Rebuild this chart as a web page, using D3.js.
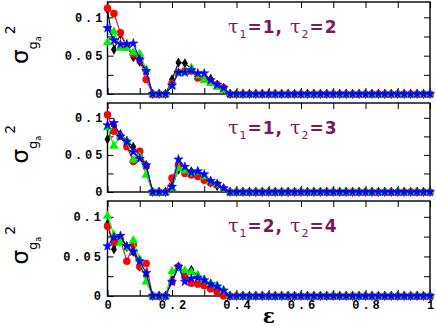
<!DOCTYPE html>
<meta charset="utf-8">
<title>sigma g_a vs epsilon</title>
<style>
body { margin: 0; background: #fff; }
svg { display: block; }
.tick text { font-family: "Liberation Mono", monospace; font-weight: bold; font-size: 12px; letter-spacing: 3px; fill: #000; }
.frame { fill: none; stroke: #000; stroke-width: 1.4; }
</style>
<svg width="436" height="327"></svg>
<script src="https://d3js.org/d3.v7.min.js"></script>
<script>
// coupling strength (x axis)
var eps = [0, 0.02, 0.04, 0.06, 0.08, 0.1, 0.12, 0.14, 0.16, 0.18, 0.2, 0.22, 0.24, 0.26, 0.28, 0.3, 0.32, 0.34, 0.36,
  0.38, 0.4, 0.42, 0.44, 0.46, 0.48, 0.5, 0.52, 0.54, 0.56, 0.58, 0.6, 0.62, 0.64, 0.66, 0.68, 0.7, 0.72, 0.74, 0.76, 0.78,
  0.8, 0.82, 0.84, 0.86, 0.88, 0.9, 0.92, 0.94, 0.96, 0.98, 1]

var xTicks = [0, 0.1, 0.2, 0.3, 0.4, 0.5, 0.6, 0.7, 0.8, 0.9, 1]
var xTickLabels = {0: "0", 0.2: "0.2", 0.4: "0.4", 0.6: "0.6", 0.8: "0.8", 1: "1"}
var yTicks = [0, 0.025, 0.05, 0.075, 0.1]
var yTickLabels = {0: "0", 0.05: "0.05", 0.1: "0.1"}

var panelTitles = [["1", "1", "2", "2"], ["1", "1", "2", "3"], ["1", "2", "2", "4"]]

// tau1=1, tau2=2
var p1Black = [0.110, 0.058, 0.078, 0.062, 0.048, 0.042, 0.030, 0, 0, 0, 0.019, 0.041, 0.040, 0.033, 0.024, 0.022, 0.020, 0.012, 0.007,
  0, 0, 0, 0, 0, 0, 0, 0, 0, 0, 0, 0, 0, 0, 0, 0, 0, 0, 0, 0, 0, 0, 0, 0, 0, 0, 0, 0, 0, 0, 0, 0]
var p1Red = [0.112, 0.105, 0.080, 0.062, 0.052, 0.045, 0.019, 0, 0, 0, 0.014, 0.028, 0.030, 0.030, 0.021, 0.020, 0.015, 0.012, 0.008,
  0, 0, 0, 0, 0, 0, 0, 0, 0, 0, 0, 0, 0, 0, 0, 0, 0, 0, 0, 0, 0, 0, 0, 0, 0, 0, 0, 0, 0, 0, 0, 0]
var p1Green = [0.067, 0.081, 0.060, 0.060, 0.054, 0.052, 0.032, 0, 0, 0, 0.010, 0.027, 0.028, 0.034, 0.024, 0.018, 0.014, 0.009, 0.005,
  0, 0, 0, 0, 0, 0, 0, 0, 0, 0, 0, 0, 0, 0, 0, 0, 0, 0, 0, 0, 0, 0, 0, 0, 0, 0, 0, 0, 0, 0, 0, 0]
var p1Blue = [0.086, 0.070, 0.065, 0.065, 0.066, 0.045, 0.030, 0, 0, 0, 0.011, 0.028, 0.028, 0.031, 0.027, 0.027, 0.018, 0.012, 0.008,
  0, 0, 0, 0, 0, 0, 0, 0, 0, 0, 0, 0, 0, 0, 0, 0, 0, 0, 0, 0, 0, 0, 0, 0, 0, 0, 0, 0, 0, 0, 0, 0]

// tau1=1, tau2=3
var p2Black = [0.071, 0.090, 0.078, 0.069, 0.061, 0.050, 0.036, 0, 0, 0, 0.008, 0.030, 0.030, 0.028, 0.024, 0.020, 0.013, 0.008, 0.005,
  0, 0, 0, 0, 0, 0, 0, 0, 0, 0, 0, 0, 0, 0, 0, 0, 0, 0, 0, 0, 0, 0, 0, 0, 0, 0, 0, 0, 0, 0, 0, 0]
var p2Red = [0.104, 0.082, 0.075, 0.061, 0.041, 0.055, 0.035, 0, 0, 0, 0.019, 0.036, 0.025, 0.023, 0.021, 0.016, 0.012, 0.010, 0.004,
  0, 0, 0, 0, 0, 0, 0, 0, 0, 0, 0, 0, 0, 0, 0, 0, 0, 0, 0, 0, 0, 0, 0, 0, 0, 0, 0, 0, 0, 0, 0, 0]
var p2Green = [0.087, 0.062, 0.075, 0.069, 0.043, 0.048, 0.023, 0, 0, 0, 0.005, 0.032, 0.029, 0.025, 0.027, 0.021, 0.014, 0.010, 0.004,
  0, 0, 0, 0, 0, 0, 0, 0, 0, 0, 0, 0, 0, 0, 0, 0, 0, 0, 0, 0, 0, 0, 0, 0, 0, 0, 0, 0, 0, 0, 0, 0]
var p2Blue = [0.090, 0.093, 0.075, 0.068, 0.054, 0.045, 0.036, 0, 0, 0, 0.007, 0.044, 0.034, 0.026, 0.028, 0.024, 0.015, 0.011, 0.005,
  0, 0, 0, 0, 0, 0, 0, 0, 0, 0, 0, 0, 0, 0, 0, 0, 0, 0, 0, 0, 0, 0, 0, 0, 0, 0, 0, 0, 0, 0, 0, 0]

// tau1=2, tau2=4
var p3Black = [0.091, 0.059, 0.074, 0.062, 0.056, 0.037, 0.026, 0, 0, 0, 0.020, 0.037, 0.030, 0.033, 0.026, 0.020, 0.015, 0.010, 0.005,
  0, 0, 0, 0, 0, 0, 0, 0, 0, 0, 0, 0, 0, 0, 0, 0, 0, 0, 0, 0, 0, 0, 0, 0, 0, 0, 0, 0, 0, 0, 0, 0]
var p3Red = [0.088, 0.069, 0.071, 0.044, 0.065, 0.037, 0.041, 0, 0, 0, 0.018, 0.037, 0.024, 0.016, 0.015, 0.013, 0.009, 0.005, 0,
  0, 0, 0, 0, 0, 0, 0, 0, 0, 0, 0, 0, 0, 0, 0, 0, 0, 0, 0, 0, 0, 0, 0, 0, 0, 0, 0, 0, 0, 0, 0, 0]
var p3Green = [0.101, 0.077, 0.067, 0.061, 0.070, 0.046, 0.018, 0, 0, 0, 0.031, 0.035, 0.032, 0.030, 0.026, 0.020, 0.016, 0.013, 0.007,
  0, 0, 0, 0, 0, 0, 0, 0, 0, 0, 0, 0, 0, 0, 0, 0, 0, 0, 0, 0, 0, 0, 0, 0, 0, 0, 0, 0, 0, 0, 0, 0]
var p3Blue = [0.063, 0.074, 0.076, 0.063, 0.056, 0.044, 0.029, 0, 0, 0, 0.018, 0.037, 0.018, 0.022, 0.023, 0.020, 0.015, 0.012, 0.007,
  0, 0, 0, 0, 0, 0, 0, 0, 0, 0, 0, 0, 0, 0, 0, 0, 0, 0, 0, 0, 0, 0, 0, 0, 0, 0, 0, 0, 0, 0, 0, 0]

var seriesStyle = [
  {color: "#000000", symbol: d3.symbolDiamond, size: 30},
  {color: "#ff0000", symbol: d3.symbolCircle, size: 44},
  {color: "#00ee00", symbol: d3.symbolTriangle, size: 38},
  {color: "#0000ff", symbol: d3.symbolStar, size: 26}
]

var panelData = [
  [p1Black, p1Red, p1Green, p1Blue],
  [p2Black, p2Red, p2Green, p2Blue],
  [p3Black, p3Red, p3Green, p3Blue]
]

var svg = d3.select("svg")
var left = 107.5, right = 430
var panels = [{top: 2, bottom: 94}, {top: 103, bottom: 192}, {top: 201, bottom: 296}]

var x = d3.scaleLinear().domain([0, 1]).range([left, right])

panels.forEach(function(p, i) {
  var y = d3.scaleLinear().domain([0, 0.12]).range([p.bottom, p.top])
  var g = svg.append("g")

  g.append("g").attr("transform", "translate(" + left + ",0)")
    .call(d3.axisLeft(y).tickValues(yTicks).tickSize(-6).tickPadding(5)
      .tickFormat(function(d) { return yTickLabels[d] || "" }))
  g.append("g").attr("transform", "translate(" + right + ",0)")
    .call(d3.axisRight(y).tickValues(yTicks).tickSize(-6).tickFormat(""))
  g.append("g").attr("transform", "translate(0," + p.top + ")")
    .call(d3.axisTop(x).tickValues(xTicks).tickSize(-6).tickFormat(""))
  g.append("g").attr("transform", "translate(0," + p.bottom + ")")
    .call(d3.axisBottom(x).tickValues(xTicks).tickSize(-6).tickPadding(4)
      .tickFormat(function(d) { return i == 2 ? (xTickLabels[d] || "") : "" }))
  g.selectAll(".domain").remove()
  g.selectAll(".tick line").attr("stroke", "#000")
  g.selectAll(".tick text").attr("dx", i == 2 ? "1.5px" : "3px")

  g.append("rect").attr("class", "frame")
    .attr("x", left).attr("y", p.top)
    .attr("width", right - left).attr("height", p.bottom - p.top)

  panelData[i].forEach(function(vals, k) {
    var st = seriesStyle[k]
    var pts = eps.map(function(e, j) { return [e, vals[j]] })
    g.append("path")
      .attr("fill", "none")
      .attr("stroke", st.color)
      .attr("stroke-width", 1.1)
      .attr("d", d3.line().x(function(d) { return x(d[0]) }).y(function(d) { return y(d[1]) })(pts))
    g.selectAll(null).data(pts).enter().append("path")
      .attr("transform", function(d) { return "translate(" + x(d[0]) + "," + y(d[1]) + ")" })
      .attr("d", d3.symbol().type(st.symbol).size(st.size))
      .attr("fill", st.color)
      .attr("stroke", k == 3 ? st.color : "none")
      .attr("stroke-width", 0.6)
  })

  // tau label
  var t = panelTitles[i]
  var title = g.append("text")
    .attr("x", 228).attr("y", p.top + 31)
    .attr("fill", "#7a1a5a")
    .attr("font-family", "'DejaVu Sans', sans-serif")
    .attr("font-weight", "bold")
    .attr("font-size", 17)
    .attr("letter-spacing", "1px")
  title.append("tspan").attr("font-family", "'DejaVu Serif', serif").attr("font-weight", "normal").attr("font-size", 19).text("τ")
  title.append("tspan").attr("dy", 5).attr("font-weight", "normal").attr("font-size", 11).text(t[0])
  title.append("tspan").attr("dy", -5).text("=" + t[1] + ", ")
  title.append("tspan").attr("font-family", "'DejaVu Serif', serif").attr("font-weight", "normal").attr("font-size", 19).text("τ")
  title.append("tspan").attr("dy", 5).attr("font-weight", "normal").attr("font-size", 11).text(t[2])
  title.append("tspan").attr("dy", -5).text("=" + t[3])

  // y label, rotated
  var cy = (p.top + p.bottom) / 2
  var yl = svg.append("text")
    .attr("transform", "translate(28," + (cy + 16) + ") rotate(-90)")
    .attr("font-family", "'DejaVu Sans', sans-serif")
    .attr("fill", "#000")
  yl.append("tspan").attr("font-size", 23).text("σ")
  yl.append("tspan").attr("font-size", 13).attr("dy", 9).text("g")
  yl.append("tspan").attr("font-size", 8).attr("dy", 4).text("a")
  yl.append("tspan").attr("font-size", 14).attr("dx", 2).attr("dy", -26).text("2")
})

svg.append("text")
  .attr("x", (left + right) / 2).attr("y", 323)
  .attr("text-anchor", "middle")
  .attr("font-family", "'DejaVu Serif', serif")
  .attr("font-weight", "bold")
  .attr("font-size", 20)
  .text("ε")
</script>
